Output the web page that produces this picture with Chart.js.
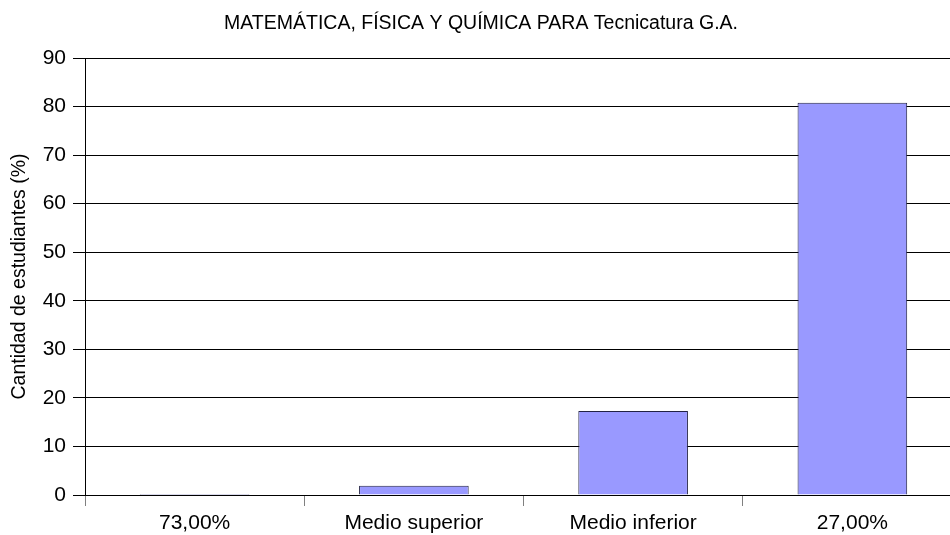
<!DOCTYPE html>
<html>
<head>
<meta charset="utf-8">
<script src="https://cdn.jsdelivr.net/npm/chart.js@4/dist/chart.umd.min.js"></script>
<style>
    html, body { margin: 0; padding: 0; background: #fff; overflow: hidden; }
    #wrap { width: 962px; height: 535px; }
</style>
</head>
<body>
<div id="wrap"><canvas id="chart" width="962" height="535"></canvas></div>
<script>
const categories = ['73,00%', 'Medio superior', 'Medio inferior', '27,00%'];
const values = [0.2, 1.9, 17.3, 80.8];
const chartTitle = 'MATEMÁTICA, FÍSICA Y QUÍMICA PARA Tecnicatura G.A.';
const yTitle = 'Cantidad de estudiantes (%)';

const ctx = document.getElementById('chart').getContext('2d');
Chart.defaults.font.family = '"Liberation Sans", Arial, sans-serif';
Chart.defaults.color = '#000';

new Chart(ctx, {
    type: 'bar',
    data: {
        labels: categories,
        datasets: [{
            data: values,
            backgroundColor: '#9999ff',
            borderColor: '#222244',
            borderWidth: 1,
            categoryPercentage: 1,
            barPercentage: 0.5
        }]
    },
    options: {
        responsive: false,
        animation: false,
        layout: { padding: 0 },
        plugins: {
            legend: { display: false },
            tooltip: { enabled: false },
            title: {
                display: true,
                text: chartTitle,
                font: { size: 19.5, weight: 'normal' },
                color: '#000',
                padding: { top: 12, bottom: 22.6 }
            }
        },
        scales: {
            x: {
                offset: true,
                grid: {
                    offset: true,
                    drawOnChartArea: false,
                    drawTicks: true,
                    tickLength: 11,
                    color: '#808080'
                },
                border: { color: '#000', width: 1 },
                ticks: { font: { size: 21 }, color: '#000', padding: 5, maxRotation: 0 },
                afterFit: scale => { scale.height = 40; }
            },
            y: {
                min: 0,
                max: 90,
                ticks: { stepSize: 10, font: { size: 21 }, color: '#000', padding: 7 },
                grid: { color: '#000', tickLength: 12, drawTicks: true },
                border: { color: '#000', width: 1 },
                title: {
                    display: true,
                    text: yTitle,
                    font: { size: 19.5 },
                    color: '#000',
                    padding: { top: 8, bottom: 0 }
                },
                afterFit: scale => { scale.width = 85; }
            }
        }
    }
});
</script>
</body>
</html>
